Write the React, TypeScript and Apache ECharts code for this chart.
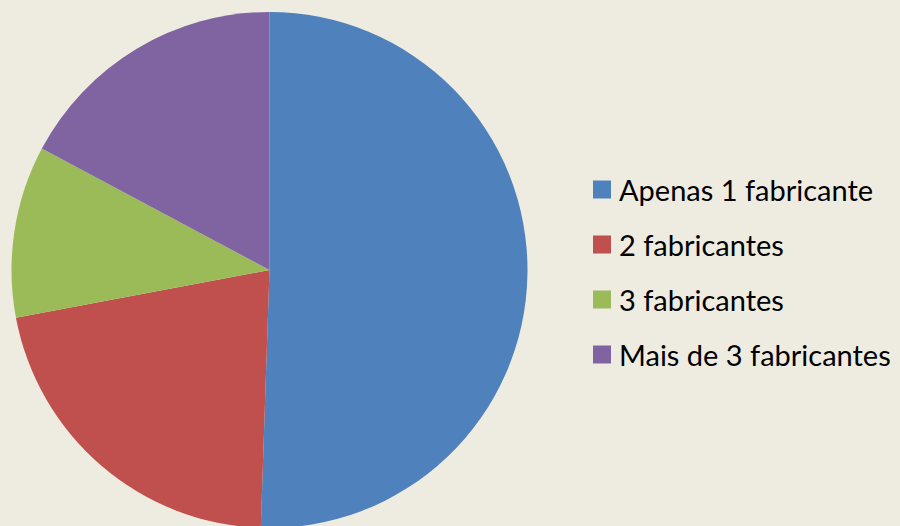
import React, { useEffect, useRef } from "react";
import * as echarts from "echarts";

const categories = ["Apenas 1 fabricante", "2 fabricantes", "3 fabricantes", "Mais de 3 fabricantes"];
const values = [47, 20, 10, 16];
const colors = ["#4F81BD", "#C0504D", "#9BBB59", "#8064A2"];

export default function App() {
  const ref = useRef<HTMLDivElement>(null);
  useEffect(() => {
    if (!ref.current) return;
    const chart = echarts.init(ref.current, undefined, { renderer: "svg" });
    chart.setOption({
      animation: false,
      backgroundColor: "#EEECE1",
      color: colors,
      legend: {
        orient: "vertical",
        left: 593,
        top: 175,
        padding: 0,
        itemWidth: 18,
        itemHeight: 18,
        itemGap: 26,
        icon: "rect",
        data: categories,
        textStyle: {
          fontFamily: "Lato",
          fontSize: 29,
          color: "#000",
          padding: [0, 0, 0, 3],
        },
      },
      series: [
        {
          type: "pie",
          center: [269.5, 270],
          radius: 258,
          startAngle: 90,
          clockwise: true,
          label: { show: false },
          labelLine: { show: false },
          emphasis: { disabled: true },
          itemStyle: { borderWidth: 0 },
          data: categories.map((name, i) => ({ name, value: values[i] })),
        },
      ],
    });
    return () => chart.dispose();
  }, []);
  return <div ref={ref} style={{ position: "fixed", left: 0, top: 0, width: 900, height: 526 }} />;
}
